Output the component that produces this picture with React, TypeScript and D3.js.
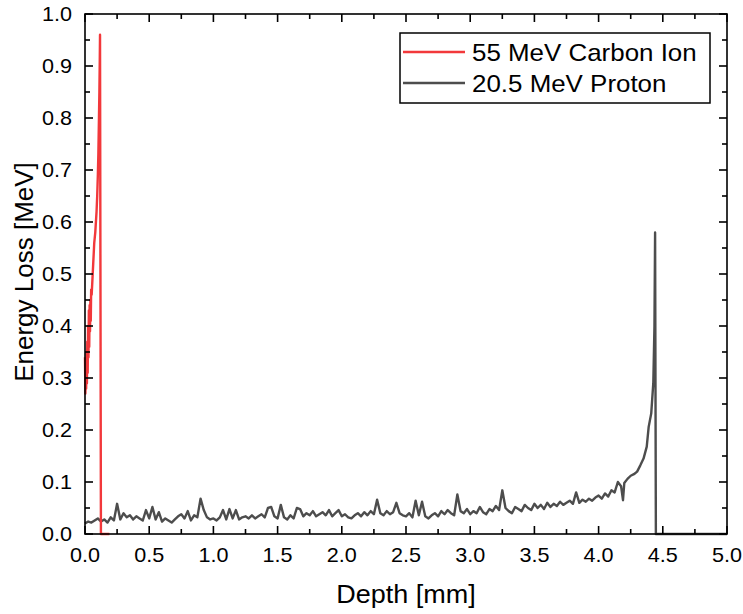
import React from 'react';
import * as d3 from 'd3';

const xTickValues = [0, 0.5, 1.0, 1.5, 2.0, 2.5, 3.0, 3.5, 4.0, 4.5, 5.0];
const yTickValues = [0, 0.1, 0.2, 0.3, 0.4, 0.5, 0.6, 0.7, 0.8, 0.9, 1.0];
const xMinorTicks = [0.25, 0.75, 1.25, 1.75, 2.25, 2.75, 3.25, 3.75, 4.25, 4.75];
const yMinorTicks = [0.05, 0.15, 0.25, 0.35, 0.45, 0.55, 0.65, 0.75, 0.85, 0.95];

const seriesNames = ['55 MeV Carbon Ion', '20.5 MeV Proton'];

// Proton: depth bins of 0.025 mm from 0 to 3.975 mm
const protonBinStart = 0;
const protonBinWidth = 0.025;
const protonBinnedLoss = [
  0.020, 0.024, 0.022, 0.026, 0.030, 0.024, 0.028, 0.022, 0.032, 0.026, 0.058, 0.028, 0.040, 0.032, 0.036, 0.028, 0.034, 0.030, 0.026, 0.046,
  0.030, 0.052, 0.028, 0.042, 0.024, 0.030, 0.026, 0.022, 0.028, 0.034, 0.038, 0.030, 0.044, 0.026, 0.036, 0.032, 0.068, 0.046, 0.032, 0.028,
  0.030, 0.026, 0.032, 0.046, 0.028, 0.048, 0.030, 0.046, 0.028, 0.032, 0.034, 0.030, 0.036, 0.030, 0.034, 0.038, 0.032, 0.050, 0.052, 0.034,
  0.030, 0.056, 0.032, 0.028, 0.036, 0.030, 0.050, 0.048, 0.034, 0.040, 0.036, 0.044, 0.034, 0.038, 0.042, 0.036, 0.046, 0.034, 0.040, 0.046,
  0.034, 0.038, 0.032, 0.030, 0.036, 0.040, 0.034, 0.042, 0.036, 0.044, 0.038, 0.066, 0.040, 0.036, 0.044, 0.038, 0.042, 0.060, 0.040, 0.036,
  0.034, 0.040, 0.032, 0.064, 0.036, 0.062, 0.034, 0.030, 0.036, 0.040, 0.034, 0.044, 0.038, 0.046, 0.040, 0.036, 0.076, 0.044, 0.040, 0.048,
  0.038, 0.044, 0.040, 0.052, 0.042, 0.038, 0.048, 0.044, 0.054, 0.046, 0.084, 0.050, 0.044, 0.040, 0.052, 0.048, 0.044, 0.056, 0.050, 0.046,
  0.058, 0.050, 0.056, 0.048, 0.060, 0.052, 0.058, 0.054, 0.062, 0.056, 0.060, 0.064, 0.058, 0.080, 0.060, 0.066, 0.062, 0.068, 0.064, 0.070,
];
// Proton Bragg peak region
const protonTailDepth = [4.0, 4.025, 4.05, 4.075, 4.1, 4.125, 4.15, 4.175, 4.19, 4.2, 4.225, 4.25, 4.275, 4.3, 4.325, 4.35, 4.375, 4.39, 4.41, 4.426, 4.435, 4.44, 4.446, 5.0];
const protonTailLoss = [0.074, 0.068, 0.078, 0.072, 0.084, 0.080, 0.100, 0.092, 0.065, 0.098, 0.106, 0.112, 0.115, 0.120, 0.132, 0.145, 0.168, 0.206, 0.232, 0.29, 0.40, 0.58, 0, 0];

// Carbon ion
const carbonDepth = [0, 0.003, 0.006, 0.009, 0.012, 0.015, 0.018, 0.021, 0.024, 0.027, 0.030, 0.033, 0.036, 0.039, 0.042, 0.045, 0.048, 0.052, 0.056, 0.060, 0.064, 0.068, 0.072, 0.076, 0.080, 0.085, 0.090, 0.095, 0.100, 0.104, 0.108, 0.112, 0.115, 0.117, 0.124, 0.19];
const carbonLoss = [0.34, 0.27, 0.32, 0.28, 0.35, 0.29, 0.37, 0.31, 0.40, 0.34, 0.43, 0.36, 0.44, 0.39, 0.45, 0.41, 0.47, 0.46, 0.48, 0.50, 0.52, 0.54, 0.56, 0.57, 0.58, 0.60, 0.62, 0.65, 0.69, 0.73, 0.79, 0.85, 0.91, 0.96, 0, 0];

const W = 743;
const H = 614;
const M = { left: 85, right: 727, top: 14, bottom: 534 };
const RED = '#f2383b';
const GRAY = '#4d4d4d';
const FONT = 'Liberation Sans, Arial, sans-serif';
const SX = 1.08; // horizontal glyph stretch

export default function App() {
  const x = d3.scaleLinear().domain([0, 5]).range([M.left, M.right]);
  const y = d3.scaleLinear().domain([0, 1]).range([M.bottom, M.top]);

  const protonPts: [number, number][] = protonBinnedLoss.map((v, i) => [protonBinStart + i * protonBinWidth, v]);
  protonTailDepth.forEach((d, i) => protonPts.push([d, protonTailLoss[i]]));
  const carbonPts: [number, number][] = carbonDepth.map((d, i) => [d, carbonLoss[i]]);

  const line = d3.line<[number, number]>().x(d => x(d[0])).y(d => y(d[1]));

  const major = 8;
  const minor = 5;
  const axisW = 1.6;
  const fmt = d3.format('.1f');

  return (
    <svg width={W} height={H} style={{ position: 'absolute', left: 0, top: 0, background: '#fff' }} fontFamily={FONT}>
      <rect x={0} y={0} width={W} height={H} fill="#fff" />
      <path d={line(protonPts) || ''} fill="none" stroke={GRAY} strokeWidth={2.4} strokeLinejoin="round" />
      <path d={line(carbonPts) || ''} fill="none" stroke={RED} strokeWidth={2.4} strokeLinejoin="round" />

      {/* frame */}
      <rect x={M.left} y={M.top} width={M.right - M.left} height={M.bottom - M.top} fill="none" stroke="#000" strokeWidth={axisW} />

      {/* x ticks */}
      {xTickValues.map(t => (
        <g key={'xt' + t}>
          <line x1={x(t)} x2={x(t)} y1={M.bottom} y2={M.bottom - major} stroke="#000" strokeWidth={axisW} />
          <line x1={x(t)} x2={x(t)} y1={M.top} y2={M.top + major} stroke="#000" strokeWidth={axisW} />
          <text transform={`translate(${x(t)},562) scale(${SX},1)`} textAnchor="middle" fontSize={20} fill="#000">{fmt(t)}</text>
        </g>
      ))}
      {xMinorTicks.map(t => (
        <g key={'xm' + t}>
          <line x1={x(t)} x2={x(t)} y1={M.bottom} y2={M.bottom - minor} stroke="#000" strokeWidth={axisW} />
          <line x1={x(t)} x2={x(t)} y1={M.top} y2={M.top + minor} stroke="#000" strokeWidth={axisW} />
        </g>
      ))}

      {/* y ticks */}
      {yTickValues.map(t => (
        <g key={'yt' + t}>
          <line x1={M.left} x2={M.left + major} y1={y(t)} y2={y(t)} stroke="#000" strokeWidth={axisW} />
          <line x1={M.right} x2={M.right - major} y1={y(t)} y2={y(t)} stroke="#000" strokeWidth={axisW} />
          <text transform={`translate(72,${y(t) + 7}) scale(${SX},1)`} textAnchor="end" fontSize={20} fill="#000">{fmt(t)}</text>
        </g>
      ))}
      {yMinorTicks.map(t => (
        <g key={'ym' + t}>
          <line x1={M.left} x2={M.left + minor} y1={y(t)} y2={y(t)} stroke="#000" strokeWidth={axisW} />
          <line x1={M.right} x2={M.right - minor} y1={y(t)} y2={y(t)} stroke="#000" strokeWidth={axisW} />
        </g>
      ))}

      {/* axis titles */}
      <text transform={`translate(${(M.left + M.right) / 2},603) scale(${SX},1)`} textAnchor="middle" fontSize={25} fill="#000">Depth [mm]</text>
      <text transform={`translate(33, ${(M.top + M.bottom) / 2 - 2}) rotate(-90)`} textAnchor="middle" fontSize={26} fill="#000">Energy Loss [MeV]</text>

      {/* legend */}
      <rect x={400} y={33} width={310} height={70} fill="#fff" stroke="#000" strokeWidth={1.5} />
      {seriesNames.map((name, i) => (
        <g key={name}>
          <line x1={403} x2={465} y1={52 + i * 31} y2={52 + i * 31} stroke={i === 0 ? RED : GRAY} strokeWidth={2.4} />
          <text transform={`translate(472,${52 + i * 31 + 8.5}) scale(${SX},1)`} fontSize={24} fill="#000">{name}</text>
        </g>
      ))}
    </svg>
  );
}
